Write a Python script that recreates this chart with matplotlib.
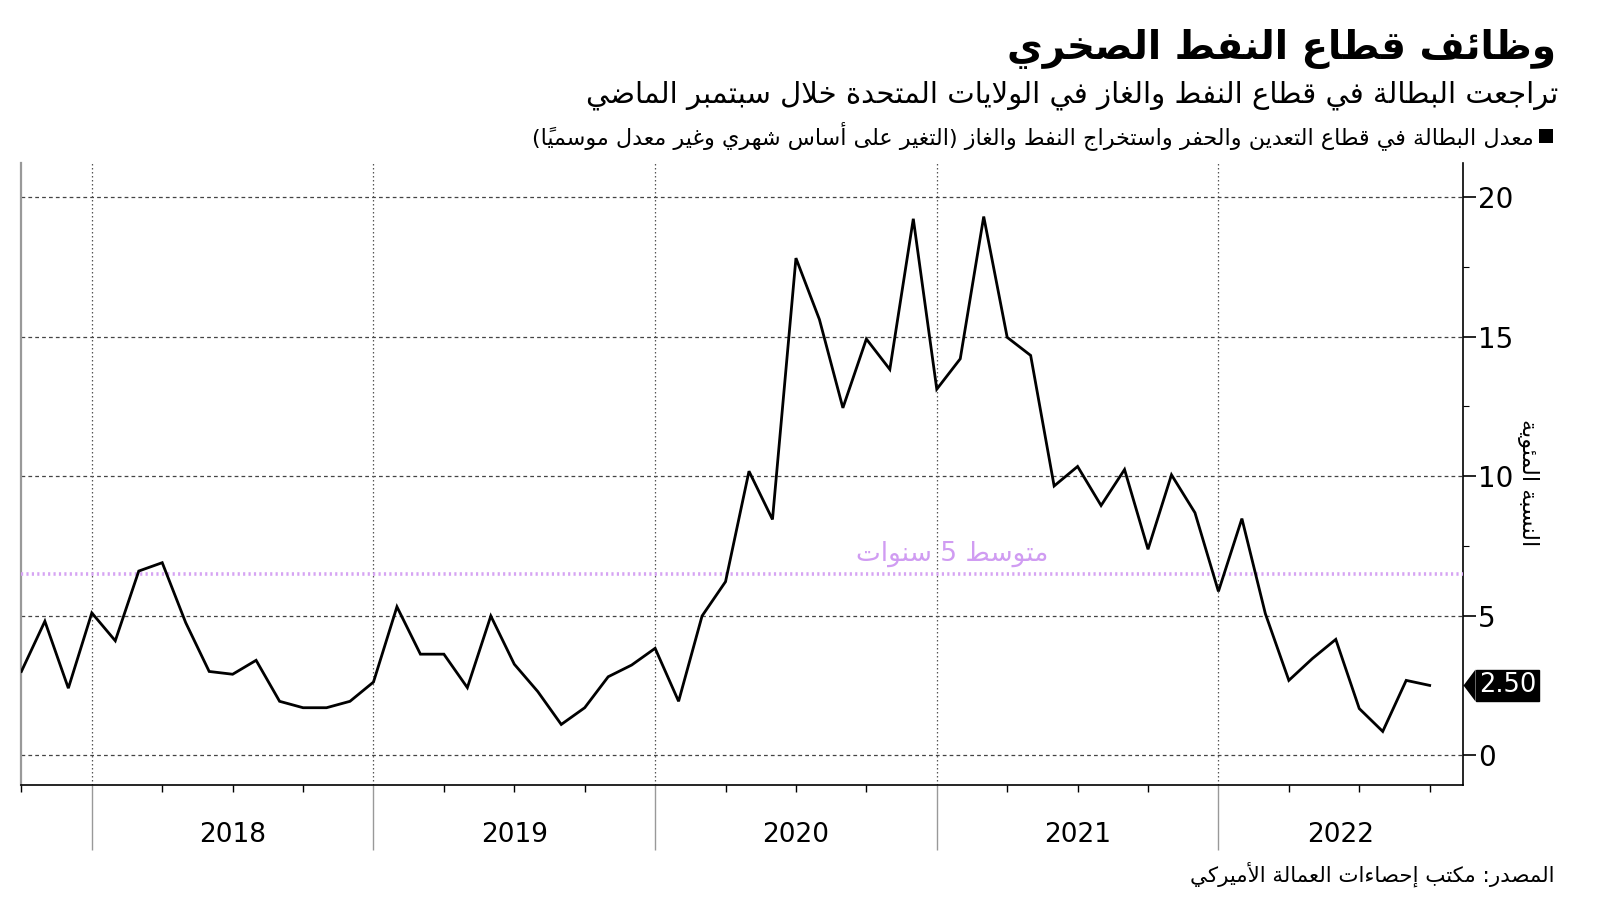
import matplotlib
matplotlib.use('Agg')
import matplotlib.pyplot as plt
from matplotlib.patches import Rectangle
from matplotlib.path import Path
from matplotlib.transforms import blended_transform_factory

# monthly series, Oct 2017 .. Sep 2022 (percent)
rate = [3.0, 4.8, 2.4, 5.1, 4.1, 6.6, 6.9, 4.75, 3.0, 2.9, 3.4, 1.93,
        1.7, 1.7, 1.93, 2.62, 5.32, 3.62, 3.62, 2.42, 4.99, 3.26, 2.28, 1.1,
        1.7, 2.81, 3.23, 3.83, 1.93, 4.99, 6.22, 10.18, 8.45, 17.82, 15.62, 12.45,
        14.92, 13.83, 19.23, 13.12, 14.21, 19.31, 14.98, 14.33, 9.65, 10.35, 8.95, 10.24,
        7.38, 10.05, 8.69, 5.87, 8.48, 5.07, 2.68, 3.46, 4.15, 1.67, 0.85, 2.68, 2.5]
avg5 = 6.5
years = ['2018', '2019', '2020', '2021', '2022']
year_start = [3, 15, 27, 39, 51]
yticks = [0, 5, 10, 15, 20]

title = 'وظائف قطاع النفط الصخري'
subtitle = 'تراجعت البطالة في قطاع النفط والغاز في الولايات المتحدة خلال سبتمبر الماضي'
legend_txt = 'معدل البطالة في قطاع التعدين والحفر واستخراج النفط والغاز (التغير على أساس شهري وغير معدل موسمياً)'
avg_txt = 'متوسط 5 سنوات'
ylab = 'النسبة المئوية'
source = 'المصدر: مكتب إحصاءات العمالة الأميركي'

# arabic presentation forms (matplotlib does no shaping itself)
FORMS = {'ء': (0xFE80, 1), 'آ': (0xFE81, 2), 'أ': (0xFE83, 2), 'ؤ': (0xFE85, 2),
         'إ': (0xFE87, 2), 'ئ': (0xFE89, 4), 'ا': (0xFE8D, 2), 'ب': (0xFE8F, 4),
         'ة': (0xFE93, 2), 'ت': (0xFE95, 4), 'ث': (0xFE99, 4), 'ج': (0xFE9D, 4),
         'ح': (0xFEA1, 4), 'خ': (0xFEA5, 4), 'د': (0xFEA9, 2), 'ذ': (0xFEAB, 2),
         'ر': (0xFEAD, 2), 'ز': (0xFEAF, 2), 'س': (0xFEB1, 4), 'ش': (0xFEB5, 4),
         'ص': (0xFEB9, 4), 'ض': (0xFEBD, 4), 'ط': (0xFEC1, 4), 'ظ': (0xFEC5, 4),
         'ع': (0xFEC9, 4), 'غ': (0xFECD, 4), 'ف': (0xFED1, 4), 'ق': (0xFED5, 4),
         'ك': (0xFED9, 4), 'ل': (0xFEDD, 4), 'م': (0xFEE1, 4), 'ن': (0xFEE5, 4),
         'ه': (0xFEE9, 4), 'و': (0xFEED, 2), 'ى': (0xFEEF, 2), 'ي': (0xFEF1, 4)}
LAMALEF = {'آ': 0xFEF5, 'أ': 0xFEF7, 'إ': 0xFEF9, 'ا': 0xFEFB}
MIRROR = {'(': ')', ')': '('}


def is_mark(c):
    return '\u064b' <= c <= '\u065f'


def ar(text):
    n = len(text)

    def nb(i, step):
        j = i + step
        while 0 <= j < n and is_mark(text[j]):
            j += step
        return j if 0 <= j < n else None

    cl = []
    i = 0
    while i < n:
        c = text[i]
        if c in FORMS:
            p = nb(i, -1)
            jp = p is not None and text[p] in FORMS and FORMS[text[p]][1] == 4
            q = nb(i, 1)
            if c == 'ل' and q is not None and text[q] in LAMALEF:
                cl.append(chr(LAMALEF[text[q]] + (1 if jp else 0)))
                i = q + 1
                continue
            start, nf = FORMS[c]
            jn = nf == 4 and q is not None and text[q] in FORMS
            if nf == 1:
                g = start
            elif nf == 2:
                g = start + 1 if jp else start
            else:
                g = start + (3 if jp and jn else 1 if jp else 2 if jn else 0)
            cl.append(chr(g))
        elif is_mark(c) and cl:
            cl[-1] += c
        else:
            cl.append(c)
        i += 1
    # visual order, keep digit runs left to right
    toks = []
    for c in cl:
        if c.isascii() and (c.isdigit() or c == '.') and toks and toks[-1][0].isascii() and toks[-1][0].isdigit():
            toks[-1] += c
        else:
            toks.append(c)
    return ''.join(MIRROR.get(t, t) for t in reversed(toks))


plt.rcParams['font.family'] = ['DejaVu Sans']

W, H = 1600, 901
fig = plt.figure(figsize=(16, 9.01), dpi=100)
ax = fig.add_axes([21.4 / W, 1 - 784.7 / H, (1463 - 21.4) / W, (784.7 - 163) / H])

x = list(range(len(rate)))
ax.plot(x, rate, color='black', lw=2.0, zorder=4, solid_joinstyle='miter')
ax.axhline(avg5, color='#d6a4f3', lw=2.6, ls=(0, (0.6, 0.9)), zorder=3)
ax.text(39.65, 7.2, ar(avg_txt), color='#d09cf2', fontsize=19, ha='center', va='center')

ax.set_xlim(0, 61.42)
ax.set_ylim(-1.06, 21.23)

for v in yticks:
    ax.axhline(v, color='#444444', lw=0.9, ls=(0, (3, 2.5)), zorder=1)
for s in year_start:
    ax.axvline(s, color='#555555', lw=0.9, ls=(0, (1.2, 2)), zorder=1)

ax.yaxis.tick_right()
ax.set_yticks(yticks)
ax.set_yticklabels([str(v) for v in yticks], fontsize=20)
ax.set_yticks([2.5, 7.5, 12.5, 17.5], minor=True)
ax.tick_params(axis='y', which='major', direction='out', length=9, width=1.2, pad=2)
ax.tick_params(axis='y', which='minor', direction='out', length=4, width=0.8)

ax.set_xticks(year_start)
ax.set_xticklabels([])
ax.set_xticks([k for k in range(0, 61, 3) if k not in year_start], minor=True)
ax.tick_params(axis='x', which='major', direction='out', length=47, width=1.0, color='#999999')
ax.tick_params(axis='x', which='minor', direction='out', length=5, width=1.0)

tr = blended_transform_factory(ax.transData, ax.transAxes)
edges = year_start + [61.42]
for i, y in enumerate(years):
    ax.text((edges[i] + edges[i + 1]) / 2, -0.081, y, transform=tr, fontsize=19,
            ha='center', va='center')

ax.spines['top'].set_visible(False)
ax.spines['left'].set_color('#999999')
ax.spines['left'].set_linewidth(1.6)
ax.spines['bottom'].set_linewidth(1.2)
ax.spines['right'].set_linewidth(1.2)

# last value tag: box plus a small pointer
tr2 = blended_transform_factory(ax.transAxes, ax.transData)
bx = (1474 - 21.4) / (1463 - 21.4)
tip = Path([(0, -1), (0, 1), (-0.75, 0), (0, -1)], [Path.MOVETO, Path.LINETO, Path.LINETO, Path.CLOSEPOLY])
ax.plot([bx + 0.0005], [rate[-1]], marker=tip, ms=23, color='black', mec='none',
        transform=tr2, clip_on=False, zorder=5)
ax.text(bx + 0.0035, rate[-1], '%.2f' % rate[-1], transform=tr2,
        color='white', fontsize=18.5, ha='left', va='center',
        bbox=dict(boxstyle='square,pad=0.1', fc='black', ec='black'))

ax.text(1.045, 0.486, ar(ylab), transform=ax.transAxes, rotation=270, fontsize=16,
        ha='center', va='center')

fig.text(1556 / W, 1 - 49 / H, ar(title), fontsize=28, fontweight='bold', ha='right', va='center')
fig.text(1558 / W, 1 - 95 / H, ar(subtitle), fontsize=21, ha='right', va='center')
fig.text(1534 / W, 1 - 136 / H, ar(legend_txt), fontsize=16, ha='right', va='center')
fig.add_artist(Rectangle((1539 / W, 1 - 143 / H), 14 / W, 14 / H, transform=fig.transFigure,
                         fc='black', ec='none'))
fig.text(1554 / W, 1 - 874 / H, ar(source), fontsize=15.4, ha='right', va='center')

fig.savefig('out.png', dpi=100)
